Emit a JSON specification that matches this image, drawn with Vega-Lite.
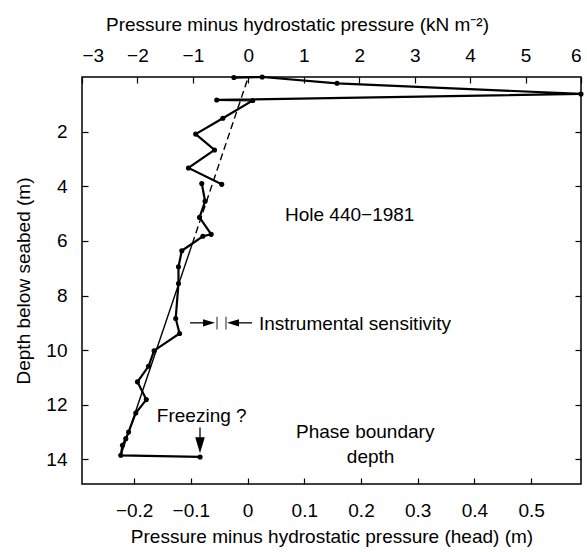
{
  "$schema": "https://vega.github.io/schema/vega-lite/v6.json",
  "width": 499,
  "height": 407,
  "autosize": {"type": "none"},
  "padding": {"left": 82, "top": 77, "right": 6, "bottom": 68},
  "config": {
    "view": {"stroke": "black", "strokeWidth": 1.5},
    "font": "Liberation Sans",
    "axis": {
      "domain": false, "grid": false, "tickColor": "black", "tickWidth": 1.2, "tickSize": -6,
      "labelFont": "Liberation Sans", "labelFontSize": 19, "labelColor": "black",
      "titleFont": "Liberation Sans", "titleFontSize": 19, "titleFontWeight": "normal", "titleColor": "black"
    }
  },
  "datasets": {
    "obs": [
      {"seg": "a", "i": 1, "p": -0.26, "d": 0.02},
      {"seg": "a", "i": 2, "p": 0.25, "d": 0.0},
      {"seg": "a", "i": 3, "p": 1.6, "d": 0.23},
      {"seg": "a", "i": 4, "p": 6.0, "d": 0.62},
      {"seg": "a", "i": 5, "p": -0.57, "d": 0.84},
      {"seg": "a", "i": 6, "p": 0.08, "d": 0.86},
      {"seg": "a", "i": 7, "p": -0.46, "d": 1.51},
      {"seg": "a", "i": 8, "p": -0.95, "d": 2.09},
      {"seg": "a", "i": 9, "p": -0.61, "d": 2.67},
      {"seg": "a", "i": 10, "p": -1.08, "d": 3.33},
      {"seg": "a", "i": 11, "p": -0.48, "d": 3.93},
      {"seg": "b", "i": 12, "p": -0.84, "d": 3.9},
      {"seg": "b", "i": 13, "p": -0.78, "d": 4.55},
      {"seg": "b", "i": 14, "p": -0.88, "d": 5.14},
      {"seg": "b", "i": 15, "p": -0.67, "d": 5.76},
      {"seg": "b", "i": 16, "p": -0.82, "d": 5.83},
      {"seg": "b", "i": 17, "p": -1.2, "d": 6.36},
      {"seg": "b", "i": 18, "p": -1.26, "d": 6.95},
      {"seg": "b", "i": 19, "p": -1.26, "d": 7.56},
      {"seg": "b", "i": 20, "p": -1.31, "d": 8.84},
      {"seg": "b", "i": 21, "p": -1.24, "d": 9.39},
      {"seg": "b", "i": 22, "p": -1.7, "d": 10.02},
      {"seg": "b", "i": 23, "p": -1.8, "d": 10.59},
      {"seg": "b", "i": 24, "p": -2.0, "d": 11.16},
      {"seg": "b", "i": 25, "p": -1.84, "d": 11.81},
      {"seg": "b", "i": 26, "p": -2.03, "d": 12.3},
      {"seg": "b", "i": 27, "p": -2.16, "d": 13.0},
      {"seg": "b", "i": 28, "p": -2.21, "d": 13.24},
      {"seg": "b", "i": 29, "p": -2.27, "d": 13.48},
      {"seg": "b", "i": 30, "p": -2.3, "d": 13.85},
      {"seg": "b", "i": 31, "p": -0.87, "d": 13.91}
    ],
    "trendDash": [
      {"p": 0.0, "d": 0.0},
      {"p": -1.01, "d": 6.1}
    ],
    "trendSolid": [
      {"p": -1.01, "d": 6.1},
      {"p": -2.3, "d": 13.85}
    ],
    "labels": [
      {"h": 0.066, "d": 5.28, "text": "Hole 440−1981"},
      {"h": 0.02, "d": 9.27, "text": "Instrumental sensitivity"},
      {"h": -0.16, "d": 12.64, "text": "Freezing ?"},
      {"h": 0.0854, "d": 13.23, "text": "Phase boundary"},
      {"h": 0.175, "d": 14.14, "text": "depth"}
    ],
    "shafts": [
      {"h": -0.1015, "h2": -0.0769, "d": 9.0, "d2": 9.0},
      {"h": -0.0151, "h2": 0.0078, "d": 9.0, "d2": 9.0},
      {"h": -0.0839, "h2": -0.0839, "d": 12.83, "d2": 13.48}
    ],
    "bars": [
      {"h": -0.0539, "d": 8.78, "d2": 9.24},
      {"h": -0.0381, "d": 8.78, "d2": 9.24}
    ],
    "heads": [
      {"h": -0.068, "d": 9.0, "dir": "right"},
      {"h": -0.0257, "d": 9.0, "dir": "left"}
    ],
    "downHead": [
      {"h": -0.0839, "d": 13.48, "dir": "down"}
    ]
  },
  "layer": [
    {
      "layer": [
        {
          "data": {"name": "trendDash"},
          "mark": {"type": "line", "color": "black", "strokeWidth": 1.4, "strokeDash": [7, 4]},
          "encoding": {
            "x": {
              "field": "p", "type": "quantitative",
              "scale": {"domain": [-3, 6], "nice": false, "zero": false},
              "axis": {
                "orient": "top", "values": [-3, -2, -1, 0, 1, 2, 3, 4, 5, 6], "format": "d",
                "labelPadding": 18, "title": "Pressure minus hydrostatic pressure (kN m⁻²)",
                "titlePadding": 12, "titleX": 215
              }
            },
            "y": {
              "field": "d", "type": "quantitative",
              "scale": {"domain": [0, 14.9], "reverse": true, "nice": false, "zero": false},
              "axis": {
                "orient": "left", "values": [2, 4, 6, 8, 10, 12, 14], "format": "d",
                "labelPadding": 21, "title": "Depth below seabed (m)", "titlePadding": 12
              }
            }
          }
        },
        {
          "data": {"name": "trendSolid"},
          "mark": {"type": "line", "color": "black", "strokeWidth": 1.4},
          "encoding": {
            "x": {"field": "p", "type": "quantitative"},
            "y": {"field": "d", "type": "quantitative"}
          }
        },
        {
          "data": {"name": "obs"},
          "mark": {"type": "line", "color": "black", "strokeWidth": 2.2, "point": {"filled": true, "size": 26, "color": "black"}},
          "encoding": {
            "x": {"field": "p", "type": "quantitative"},
            "y": {"field": "d", "type": "quantitative"},
            "detail": {"field": "seg"},
            "order": {"field": "i", "type": "quantitative"}
          }
        }
      ]
    },
    {
      "layer": [
        {
          "data": {"name": "labels"},
          "mark": {"type": "text", "align": "left", "baseline": "alphabetic", "fontSize": 19, "font": "Liberation Sans", "color": "black"},
          "encoding": {
            "x": {
              "field": "h", "type": "quantitative",
              "scale": {"domain": [-0.292, 0.588], "nice": false, "zero": false},
              "axis": {
                "orient": "bottom", "values": [-0.2, -0.1, 0, 0.1, 0.2, 0.3, 0.4, 0.5], "format": ".1~f",
                "labelPadding": 23, "title": "Pressure minus hydrostatic pressure (head) (m)", "titlePadding": 7
              }
            },
            "y": {
              "field": "d", "type": "quantitative",
              "scale": {"domain": [0, 14.9], "reverse": true, "nice": false, "zero": false},
              "axis": {"orient": "right", "values": [2, 4, 6, 8, 10, 12, 14], "labels": false, "title": null}
            },
            "text": {"field": "text"}
          }
        },
        {
          "data": {"name": "shafts"},
          "mark": {"type": "rule", "color": "black", "strokeWidth": 1.3},
          "encoding": {
            "x": {"field": "h", "type": "quantitative"},
            "x2": {"field": "h2"},
            "y": {"field": "d", "type": "quantitative"},
            "y2": {"field": "d2"}
          }
        },
        {
          "data": {"name": "bars"},
          "mark": {"type": "rule", "color": "#555555", "strokeWidth": 1.3},
          "encoding": {
            "x": {"field": "h", "type": "quantitative"},
            "y": {"field": "d", "type": "quantitative"},
            "y2": {"field": "d2"}
          }
        },
        {
          "data": {"name": "heads"},
          "mark": {"type": "point", "filled": true, "color": "black", "opacity": 1, "size": 144},
          "encoding": {
            "x": {"field": "h", "type": "quantitative"},
            "y": {"field": "d", "type": "quantitative"},
            "shape": {
              "field": "dir", "type": "nominal", "legend": null,
              "scale": {"domain": ["right", "left"], "range": ["M-1,-0.6L1,0L-1,0.6Z", "M1,-0.6L-1,0L1,0.6Z"]}
            }
          }
        },
        {
          "data": {"name": "downHead"},
          "mark": {"type": "point", "filled": true, "color": "black", "opacity": 1, "size": 256, "shape": "M-0.6,-1L0.6,-1L0,1Z"},
          "encoding": {
            "x": {"field": "h", "type": "quantitative"},
            "y": {"field": "d", "type": "quantitative"}
          }
        }
      ]
    }
  ],
  "resolve": {"scale": {"x": "independent", "y": "independent"}, "axis": {"x": "independent", "y": "independent"}}
}
